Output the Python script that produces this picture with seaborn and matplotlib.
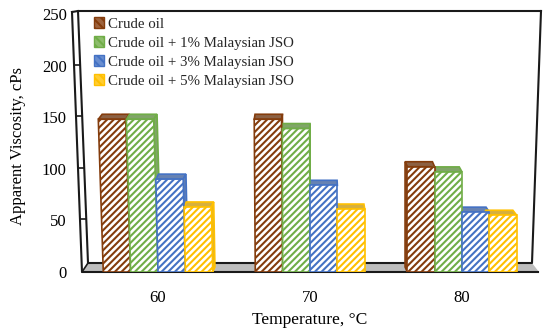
import matplotlib
matplotlib.use("Agg")
import matplotlib.pyplot as plt
import matplotlib.colors as mc
from matplotlib.patches import Patch, Polygon
from matplotlib.transforms import Affine2D
import seaborn as sns
import pandas as pd

temperatures = ["60", "70", "80"]
crude = [148, 148, 102]
jso1 = [148, 139, 97]
jso3 = [90, 84, 58]
jso5 = [63, 61, 55]
series = ["Crude oil", "Crude oil + 1% Malaysian JSO",
          "Crude oil + 3% Malaysian JSO", "Crude oil + 5% Malaysian JSO"]
colors = ["#843C0C", "#70AD47", "#4472C4", "#FFC000"]
yticks = [0, 50, 100, 150, 200, 250]

sns.set_theme(style="white")
plt.rcParams["font.family"] = ["Liberation Serif", "DejaVu Serif"]
plt.rcParams["hatch.linewidth"] = 1.5

W, H = 550, 336
fig = plt.figure(figsize=(W / 100, H / 100), dpi=100, facecolor="white")

# frame layer in pixel coordinates
bg = fig.add_axes([0, 0, 1, 1], zorder=0)
bg.set_xlim(0, W); bg.set_ylim(H, 0); bg.axis("off")
L, R, B, T = 82, 538, 272, 14
bg.add_patch(Polygon([(88, 263), (532, 263), (539, 272), (82, 272)], fc="#BDBDBD", ec="none"))
lk = dict(color="#1a1a1a", lw=1.5, solid_capstyle="projecting")
bg.plot([72, 82, 538], [12, 272, 272], **lk)
bg.plot([72, 78, 541], [12, 11, 11], **lk)
bg.plot([78, 88, 532, 541], [11, 263, 263, 11], **lk)
bg.plot([88, 82], [263, 272], color="#1a1a1a", lw=1.2)
for v in yticks[1:-1]:
    y = B - v * (B - T) / 250
    f = (272 - y) / 260
    bg.plot([82 - 10 * f, 88 - 10 * f], [y - 1, y - 1], color="#1a1a1a", lw=1.2)

# chart layer
ax = fig.add_axes([L / W, 1 - B / H, (R - L) / W, (B - T) / H], zorder=1)
ax.patch.set_alpha(0)
df = pd.DataFrame({
    "Temperature": temperatures * 4,
    "Series": [s for s in series for _ in temperatures],
    "Viscosity": crude + jso1 + jso3 + jso5,
})
sns.barplot(data=df, x="Temperature", y="Viscosity", hue="Series", hue_order=series,
            palette=colors, width=0.72, gap=0, legend=False, ax=ax, saturation=1)
ax.set_xlim(-0.5, 2.5)
ax.set_ylim(0, 250)
sns.despine(ax=ax, left=True, bottom=True)
ax.set_xlabel(""); ax.set_ylabel("")
ax.set_yticks(yticks)
ax.tick_params(axis="y", length=0, pad=11, labelsize=12, labelcolor="black")
ax.tick_params(axis="x", length=0, pad=13, labelsize=12, labelcolor="black")

px_x = 3 / (R - L)            # data x per pixel
px_y = 250 / (B - T)          # data y per pixel
vanish = 310
for i, bar in enumerate(ax.patches[:12]):
    col = colors[i // 3]
    x0, w, h = bar.get_x(), bar.get_width(), bar.get_height()
    xpix = L + (x0 + w / 2 + 0.5) / px_x
    lean_px = min(0, xpix - vanish) * 0.000169     # px of x per px of y
    sh = lean_px * (px_x / px_y)
    dx = (vanish - xpix) * 0.02 * px_x
    dy = 5 * px_y
    tr = Affine2D.from_values(1, 0, sh, 1, 0, 0) + ax.transData
    bar.set_transform(tr)
    bar.set_facecolor("white")
    bar.set_edgecolor(col)
    bar.set_hatch("/////")
    bar.set_linewidth(1.2)
    bar.set_zorder(3)
    xl, xr = x0 + sh * h, x0 + w + sh * h
    rgb = mc.to_rgb(col)
    face = tuple(0.6 * c + 0.4 * 0.6 for c in rgb)
    ax.add_patch(Polygon([(xl, h), (xr, h), (xr + dx, h + dy), (xl + dx, h + dy)],
                         fc=face, ec=col, lw=1.2, zorder=2))
    xs, xb = (xr, x0 + w) if dx > 0 else (xl, x0)
    ax.add_patch(Polygon([(xs, h), (xs + dx, h + dy), (xb + dx, dy), (xb, 0)],
                         fc=face, ec=col, lw=1.2, zorder=2))

handles = [Patch(facecolor=c, edgecolor=c, lw=1.0, label=s) for c, s in zip(colors, series)]
leg = fig.legend(handles=handles, loc="upper left", bbox_to_anchor=(94 / W, 1 - 17.5 / H),
           frameon=False, fontsize=10.7, labelspacing=0.37, handlelength=0.7,
           handleheight=0.7, handletextpad=0.27, borderpad=0.0, borderaxespad=0)
for p, c in zip(leg.get_patches(), colors):
    p.set_facecolor(tuple(0.8 * v + 0.2 for v in mc.to_rgb(c)))
    p.set_edgecolor(c)
    p.set_hatch("\\\\\\\\")

fig.text(18 / W, 1 - 146 / H, "Apparent Viscosity, cPs", rotation=90, ha="center",
         va="center", fontsize=12, color="black")
fig.text(310 / W, 1 - 320 / H, "Temperature, °C", ha="center", va="center",
         fontsize=12.6, color="black")

fig.savefig("out.png", dpi=100)
